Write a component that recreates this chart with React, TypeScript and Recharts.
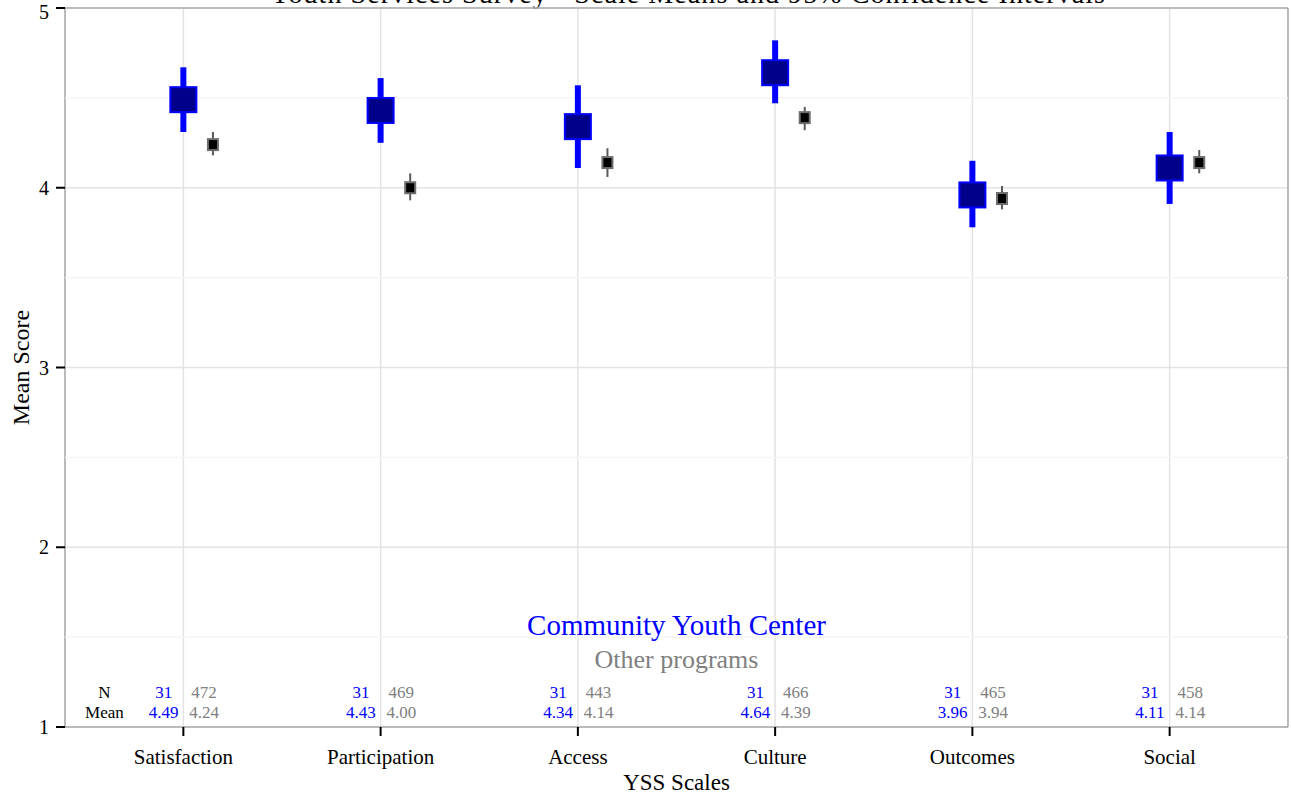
import React from 'react';
import {
  ComposedChart,
  Scatter,
  ErrorBar,
  XAxis,
  YAxis,
  CartesianGrid,
  ReferenceLine,
  ReferenceArea,
  Label,
} from 'recharts';

const scales = ['Satisfaction', 'Participation', 'Access', 'Culture', 'Outcomes', 'Social'];
const centerN = [31, 31, 31, 31, 31, 31];
const centerMean = [4.49, 4.43, 4.34, 4.64, 3.96, 4.11];
const centerLow = [4.31, 4.25, 4.11, 4.47, 3.78, 3.91];
const centerHigh = [4.67, 4.61, 4.57, 4.82, 4.15, 4.31];
const otherN = [472, 469, 443, 466, 465, 458];
const otherMean = [4.24, 4.0, 4.14, 4.39, 3.94, 4.14];
const otherLow = [4.18, 3.93, 4.06, 4.32, 3.88, 4.08];
const otherHigh = [4.31, 4.08, 4.22, 4.45, 4.01, 4.21];
const yTicks = [1, 2, 3, 4, 5];
const minorY = [1.5, 2.5, 3.5, 4.5];

const FONT = "'Liberation Serif', 'DejaVu Serif', serif";
const BLUE = '#0000FF';
const GREY = '#808080';

const xTicks = scales.map((_, i) => i + 1);
const nRowY = 1.19;
const meanRowY = 1.08;

const centerPts = scales.map((_, i) => ({
  x: i + 1,
  y: centerMean[i],
  err: [centerMean[i] - centerLow[i], centerHigh[i] - centerMean[i]],
}));
const otherPts = scales.map((_, i) => ({
  x: i + 1.15,
  y: otherMean[i],
  err: [otherMean[i] - otherLow[i], otherHigh[i] - otherMean[i]],
}));

const rowLabels = [
  { x: 0.6, y: nRowY, text: 'N' },
  { x: 0.6, y: meanRowY, text: 'Mean' },
];
const centerText = scales.flatMap((_, i) => [
  { x: i + 0.9, y: nRowY, text: String(centerN[i]) },
  { x: i + 0.9, y: meanRowY, text: centerMean[i].toFixed(2) },
]);
const otherText = scales.flatMap((_, i) => [
  { x: i + 1.105, y: nRowY, text: String(otherN[i]) },
  { x: i + 1.105, y: meanRowY, text: otherMean[i].toFixed(2) },
]);
const centerLegend = [{ x: 3.5, y: 1.567, text: 'Community Youth Center' }];
const otherLegend = [{ x: 3.5, y: 1.373, text: 'Other programs' }];

const textShape = (fill: string, size: number) => (p: any) => (
  <text
    x={p.cx}
    y={p.cy}
    fill={fill}
    fontSize={size}
    fontFamily={FONT}
    textAnchor="middle"
    dominantBaseline="central"
  >
    {p.payload.text}
  </text>
);

const emptyShape = () => <g />;

const centerBox = (p: any) => (
  <rect x={p.cx - 13} y={p.cy - 12.5} width={26} height={25} fill="#00008B" stroke={BLUE} strokeWidth={2} />
);
const otherBox = (p: any) => (
  <rect x={p.cx - 5} y={p.cy - 5.5} width={10} height={11} fill="#000" stroke="#6e6e6e" strokeWidth={2} />
);

export default function App() {
  return (
    <div style={{ position: 'absolute', left: 0, top: 0, width: 1291, height: 802, background: '#fff' }}>
      <svg
        width={1291}
        height={10}
        style={{ position: 'absolute', left: 0, top: 0, overflow: 'hidden' }}
      >
        <text x={270} y={3} fontSize={28} fontFamily={FONT} fill="#000" textLength={835} lengthAdjust="spacing">
          Youth Services Survey - Scale Means and 95% Confidence Intervals
        </text>
      </svg>
      <ComposedChart
        width={1291}
        height={802}
        margin={{ top: 8, right: 3, left: 0, bottom: 0 }}
        style={{ fontFamily: FONT }}
      >
        <CartesianGrid stroke="#e3e3e3" strokeWidth={1.5} />
        {minorY.map((v) => (
          <ReferenceLine key={v} y={v} stroke="#f4f4f4" strokeWidth={1.5} />
        ))}
        <ReferenceArea x1={0.4} x2={6.6} y1={1} y2={5} fill="none" stroke="#8a8a8a" strokeWidth={1} />
        <XAxis
          type="number"
          dataKey="x"
          domain={[0.4, 6.6]}
          ticks={xTicks}
          interval={0}
          tickFormatter={(v: number) => scales[v - 1]}
          axisLine={false}
          tickLine={{ stroke: '#000', strokeWidth: 2 }}
          tickSize={9}
          tickMargin={13}
          tick={{ fill: '#000', fontSize: 21, fontFamily: FONT }}
          height={75}
          allowDataOverflow
        >
          <Label value="YSS Scales" position="insideBottom" offset={12} fill="#000" fontSize={23} fontFamily={FONT} />
        </XAxis>
        <YAxis
          type="number"
          dataKey="y"
          domain={[1, 5]}
          ticks={yTicks}
          axisLine={false}
          tickLine={{ stroke: '#000', strokeWidth: 2 }}
          tickSize={9}
          tickMargin={7}
          tick={{ fill: '#000', fontSize: 20, fontFamily: FONT }}
          width={65}
          allowDataOverflow
        >
          <Label
            value="Mean Score"
            angle={-90}
            position="insideLeft"
            offset={20}
            fill="#000"
            fontSize={24}
            fontFamily={FONT}
            style={{ textAnchor: 'middle' }}
          />
        </YAxis>
        <Scatter data={otherPts} shape={emptyShape} isAnimationActive={false}>
          <ErrorBar dataKey="err" direction="y" width={0} stroke="#5a5a5a" strokeWidth={2} />
        </Scatter>
        <Scatter data={otherPts} shape={otherBox} isAnimationActive={false} />
        <Scatter data={centerPts} shape={emptyShape} isAnimationActive={false}>
          <ErrorBar dataKey="err" direction="y" width={0} stroke={BLUE} strokeWidth={6} />
        </Scatter>
        <Scatter data={centerPts} shape={centerBox} isAnimationActive={false} />
        <Scatter data={rowLabels} shape={textShape('#000', 17)} isAnimationActive={false} />
        <Scatter data={centerText} shape={textShape(BLUE, 17)} isAnimationActive={false} />
        <Scatter data={otherText} shape={textShape(GREY, 17)} isAnimationActive={false} />
        <Scatter data={centerLegend} shape={textShape(BLUE, 29)} isAnimationActive={false} />
        <Scatter data={otherLegend} shape={textShape(GREY, 26)} isAnimationActive={false} />
      </ComposedChart>
    </div>
  );
}
